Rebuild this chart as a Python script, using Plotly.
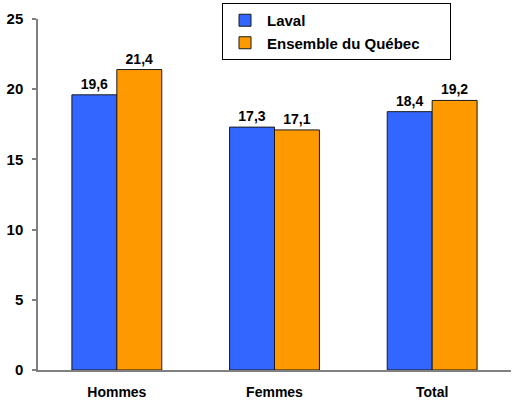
import plotly.graph_objects as go

categories = ["Hommes", "Femmes", "Total"]
laval = [19.6, 17.3, 18.4]
quebec = [21.4, 17.1, 19.2]
laval_labels = ["19,6", "17,3", "18,4"]
quebec_labels = ["21,4", "17,1", "19,2"]
y_ticks = [0, 5, 10, 15, 20, 25]
series_names = ["Laval", "Ensemble du Québec"]

FONT = "Liberation Sans, Arial, Helvetica, sans-serif"
PAD = "\u00a0" * 6

fig = go.Figure()
fig.add_trace(go.Bar(
    name=series_names[0], x=categories, y=laval, text=laval_labels,
    textposition="outside", cliponaxis=False,
    marker=dict(color="#3366FF", line=dict(color="#1a1a1a", width=1)),
    textfont=dict(family=FONT, size=14, color="black", weight="bold"),
))
fig.add_trace(go.Bar(
    name=series_names[1] + PAD, x=categories, y=quebec, text=quebec_labels,
    textposition="outside", cliponaxis=False,
    marker=dict(color="#FF9900", line=dict(color="#1a1a1a", width=1)),
    textfont=dict(family=FONT, size=14, color="black", weight="bold"),
))

fig.update_layout(
    width=514, height=400,
    margin=dict(l=38, r=3, t=19, b=30, autoexpand=False),
    paper_bgcolor="white", plot_bgcolor="white",
    barmode="group", bargap=0.43, bargroupgap=0,
    font=dict(family=FONT, size=14, color="black", weight="bold"),
    showlegend=True,
    legend=dict(
        xref="container", yref="container",
        x=222 / 514, y=1 - 3 / 400, xanchor="left", yanchor="top",
        bordercolor="black", borderwidth=1, bgcolor="white",
        font=dict(family=FONT, size=15, color="black", weight="bold"),
        itemwidth=34, tracegroupgap=0,
    ),
)
fig.update_xaxes(
    showline=True, linecolor="#808080", linewidth=1.5, automargin=False,
    showgrid=False, ticks="", ticklabelstandoff=8,
    tickfont=dict(family=FONT, size=14, color="black", weight="bold"),
)
fig.update_yaxes(
    range=[0, 25], tickvals=y_ticks, showline=True, linecolor="#808080",
    linewidth=1.5, showgrid=False, zeroline=False, ticks="outside",
    automargin=False,
    ticklen=4, tickcolor="#808080", tickwidth=1.5, ticklabelstandoff=6,
    tickfont=dict(family=FONT, size=15, color="black", weight="bold"),
)

fig.write_html(
    "out.html",
    config={"displayModeBar": False},
    post_script="document.body.style.margin='0';document.body.style.overflow='hidden';",
)
